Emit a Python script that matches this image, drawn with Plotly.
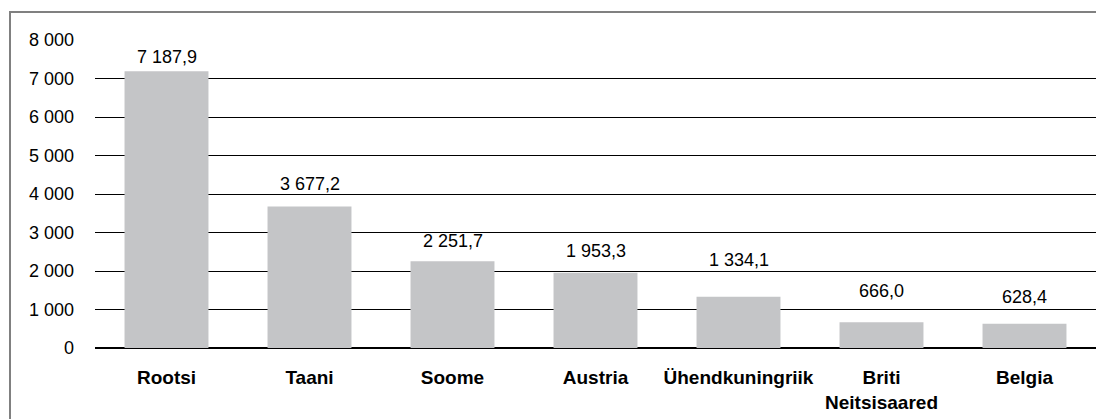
import plotly.graph_objects as go

categories = ["Rootsi", "Taani", "Soome", "Austria", "Ühendkuningriik", "Briti<br>Neitsisaared", "Belgia"]
values = [7187.9, 3677.2, 2251.7, 1953.3, 1334.1, 666.0, 628.4]
tick_vals = [0, 1000, 2000, 3000, 4000, 5000, 6000, 7000, 8000]
Y_MAX = 8000

# styling: pixel offset of each value label above its bar (labels are placed unevenly in the original)
label_shift_px = [2.3, 10.3, 8.3, 10.3, 24.3, 19.3, 15.3]


def fmt(v):
    return f"{v:,.1f}".replace(",", " ").replace(".", ",")


FONT = "Liberation Sans, Arial, sans-serif"

W, H = 1096, 419
L, R, T = 95, 0, 40
ph = 308
B = H - T - ph
pw = W - L - R

fig = go.Figure()
fig.add_trace(go.Bar(
    x=categories, y=values, width=0.587,
    marker=dict(color="#c4c5c7", line=dict(width=0)),
    hoverinfo="skip",
))

for c, v, s in zip(categories, values, label_shift_px):
    fig.add_annotation(x=c, y=v, text=fmt(v), showarrow=False,
                       yanchor="bottom", yshift=s,
                       font=dict(family=FONT, size=18, color="#000000"))

fig.add_shape(type="rect", xref="paper", yref="paper",
              x0=(10 - L) / pw, x1=(W + 20 - L) / pw,
              y0=-(H + 20 - (T + ph)) / ph, y1=(T + ph - 12) / ph,
              line=dict(color="#808080", width=2), fillcolor="rgba(0,0,0,0)", layer="below")

fig.update_layout(
    width=W, height=H,
    margin=dict(l=L, r=R, t=T, b=B, pad=0),
    paper_bgcolor="white", plot_bgcolor="white",
    separators=", ",
    showlegend=False,
    font=dict(family=FONT, color="#000000"),
)
fig.update_xaxes(
    range=[-0.5, 6.5], showgrid=False, showline=False, ticks="",
    tickfont=dict(family=FONT, size=19, color="#000000", weight="bold"),
    ticklabelstandoff=16,
)
fig.update_yaxes(
    range=[0, Y_MAX], tickvals=tick_vals, tickformat=",d",
    showgrid=True, gridcolor="#000000", gridwidth=1,
    zeroline=True, zerolinecolor="#000000", zerolinewidth=1.5,
    showline=False, ticks="",
    tickfont=dict(family=FONT, size=18, color="#000000"),
    ticklabelstandoff=20,
)

fig.write_html(
    "out.html",
    config={"displayModeBar": False},
    post_script="document.body.style.margin='0';document.body.style.overflow='hidden';",
)
